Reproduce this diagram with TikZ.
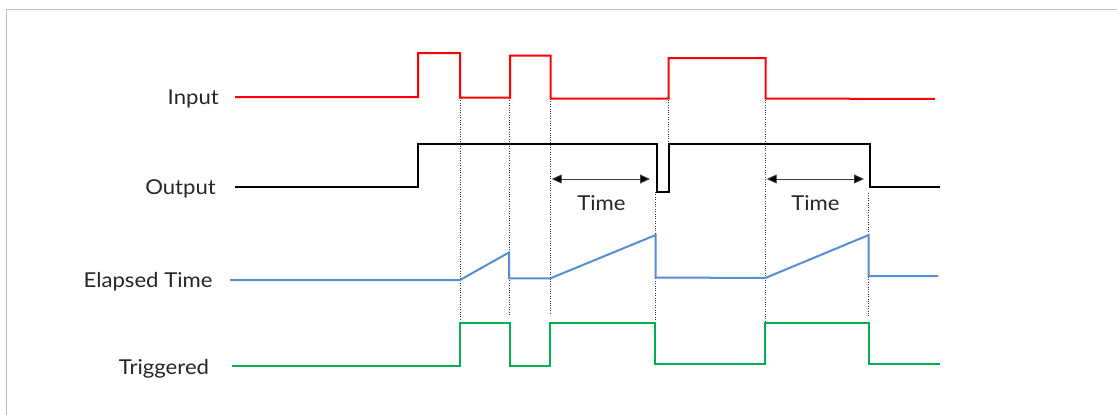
\documentclass[tikz,border=0pt]{standalone}
\usepackage{fontspec}
\setmainfont{Lato}[FakeStretch=1.08]
\usetikzlibrary{arrows.meta}
\definecolor{sigred}{RGB}{255,0,0}
\definecolor{sigblue}{RGB}{85,142,213}
\definecolor{siggreen}{RGB}{0,176,80}
\definecolor{framegray}{RGB}{192,192,192}
\tikzset{
  signal/.style={line width=2pt, line join=miter},
  guide/.style={line width=0.8pt, black!80, dash pattern=on 1pt off 1.4pt},
  lbl/.style={font=\fontsize{20.5}{24}\selectfont, text=black!85, inner sep=0pt, anchor=base east},
  timelbl/.style={font=\fontsize{20.5}{24}\selectfont, text=black!85, inner sep=0pt, anchor=base},
  span/.style={line width=0.9pt, black!75, {Triangle[length=10pt,width=9pt,fill=black]}-{Triangle[length=10pt,width=9pt,fill=black]}},
}
\begin{document}
\begin{tikzpicture}[x=1pt,y=-1pt]
\useasboundingbox (0,0) rectangle (1117,415);
% frame
\draw[framegray, line width=1.3pt] (6.5,415) -- (6.5,9.7) -- (1117,9.7);
% labels
\node[lbl] (lin) at (219,104.3) {Input};
\node[lbl] (lout) at (216,194.3) {Output};
\node[lbl] (lel) at (212.7,287.3) {Elapsed Time};
\node[lbl] (ltr) at (209.3,374) {Triggered};
% guides
\draw[guide] (460,98) -- (460,320);
\draw[guide] (509,98) -- (509,315);
\draw[guide] (550.7,99) -- (550.7,315);
\draw[guide] (655.7,192) -- (655.7,323);
\draw[guide] (668.7,100) -- (668.7,141);
\draw[guide] (765.5,100) -- (765.5,325);
\draw[guide] (868.7,193) -- (868.7,317);
% input
\draw[signal, sigred] (235,97) -- (418,97) -- (418,53) -- (460,53) -- (460,97.5) -- (510,97.5) -- (510,55.5) -- (550.5,55.5) -- (550.5,98.5) -- (668.5,98.5) -- (668.5,58) -- (765.5,58) -- (765.5,98.5) -- (935,99);
% output
\draw[signal, black] (235,186.5) -- (418,186.5) -- (418,144) -- (656.5,144) -- (656.5,191.5) -- (669,191.5) -- (669,144) -- (870,144) -- (870,186.5) -- (940,186.5);
% elapsed time
\draw[signal, sigblue] (230,280) -- (460,280) -- (509,252.5) -- (509,278.3) -- (550.5,278.3) -- (655.7,235) -- (655.7,277.5) -- (765.3,278) -- (868.7,235) -- (868.7,276) -- (938,276);
% triggered
\draw[signal, siggreen] (232,365.7) -- (460,365.7) -- (460,323.3) -- (510.3,323.3) -- (510.3,366) -- (550,366) -- (550,322.7) -- (655,322.7) -- (655,364.3) -- (765,364.3) -- (765,323) -- (868.7,323) -- (868.7,364.3) -- (940,364.3);
% time spans
\coordinate (a1) at (551.7,179);
\coordinate (b1) at (650,179);
\coordinate (a2) at (766.7,179);
\coordinate (b2) at (864,179);
\draw[span] (a1) -- (b1);
\draw[span] (a2) -- (b2);
\node[timelbl] (t1) at (601.5,210.7) {Time};
\node[timelbl] (t2) at (815.5,210.7) {Time};
\end{tikzpicture}
\end{document}
